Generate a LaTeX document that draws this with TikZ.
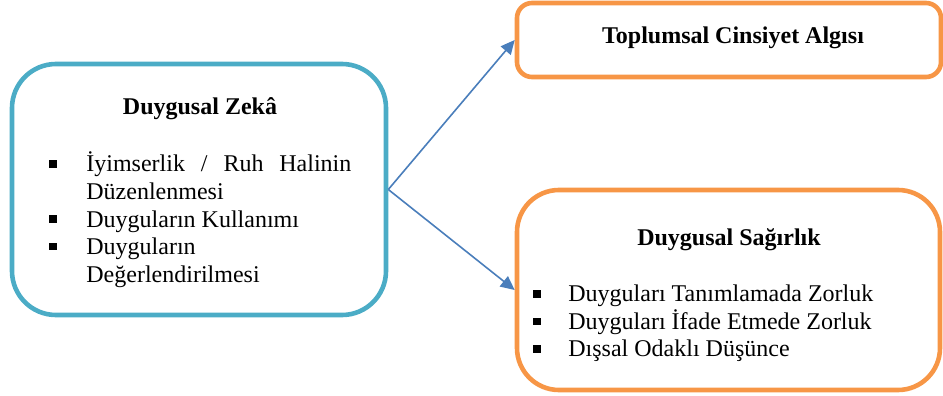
\documentclass[tikz,border=0pt]{standalone}
\usepackage{fontspec}
\setmainfont{Liberation Serif}
\usetikzlibrary{arrows.meta}
\definecolor{zkblue}{HTML}{4BACC6}
\definecolor{orng}{HTML}{F79646}
\definecolor{arrblue}{HTML}{4A7EBB}
\begin{document}
\begin{tikzpicture}[x=0.5pt,y=-0.5pt,
  font=\fontsize{12}{13.8}\selectfont,
  box/.style={draw, line width=2.3pt, inner sep=0pt},
  txt/.style={anchor=base west, inner sep=0pt},
  ttl/.style={anchor=base, inner sep=0pt, font=\fontsize{12}{13.8}\selectfont\bfseries},
  bul/.style={fill=black, inner sep=0pt, minimum size=3.6pt},
  arr/.style={draw=arrblue, line width=0.8pt, -{Triangle[length=7pt,width=6.5pt]}}]
\useasboundingbox (0,0) rectangle (943,396);
% boxes
\node[box, draw=zkblue, rounded corners=22pt, minimum width=187pt, minimum height=125.5pt] (zeka) at (199,189.5) {};
\node[box, draw=orng, rounded corners=7.5pt, minimum width=212pt, minimum height=37pt] (toplum) at (729,40) {};
\node[box, draw=orng, rounded corners=21pt, minimum width=211.5pt, minimum height=100pt] (sagir) at (728.5,290) {};
% arrows
\draw[arr] (zeka.east) -- (toplum.west);
\draw[arr] (zeka.east) -- (sagir.west);
% left box text
\node[ttl] (t1) at (200,114) {Duygusal Zekâ};
\node[txt] (l1) at (86,171.7) {\hbox to 132.5pt{İyimserlik\hfill/\hfill Ruh\hfill Halinin}};
\node[txt] (l2) at (86,199) {Düzenlenmesi};
\node[txt] (l3) at (86,227) {Duyguların Kullanımı};
\node[txt] (l4) at (86,254.5) {Duyguların};
\node[txt] (l5) at (86,282) {Değerlendirilmesi};
\node[bul] (b1) at (53,164) {};
\node[bul] (b2) at (53,219) {};
\node[bul] (b3) at (53,246.5) {};
% top right text
\node[ttl] (t2) at (733,43) {Toplumsal Cinsiyet Algısı};
% bottom right text
\node[ttl] (t3) at (729,245) {Duygusal Sağırlık};
\node[txt] (r1) at (568,301.7) {Duyguları Tanımlamada Zorluk};
\node[txt] (r2) at (568,329) {Duyguları İfade Etmede Zorluk};
\node[txt] (r3) at (568,356.7) {Dışsal Odaklı Düşünce};
\node[bul] (c1) at (537,294) {};
\node[bul] (c2) at (537,321.3) {};
\node[bul] (c3) at (537,349) {};
\end{tikzpicture}
\end{document}
